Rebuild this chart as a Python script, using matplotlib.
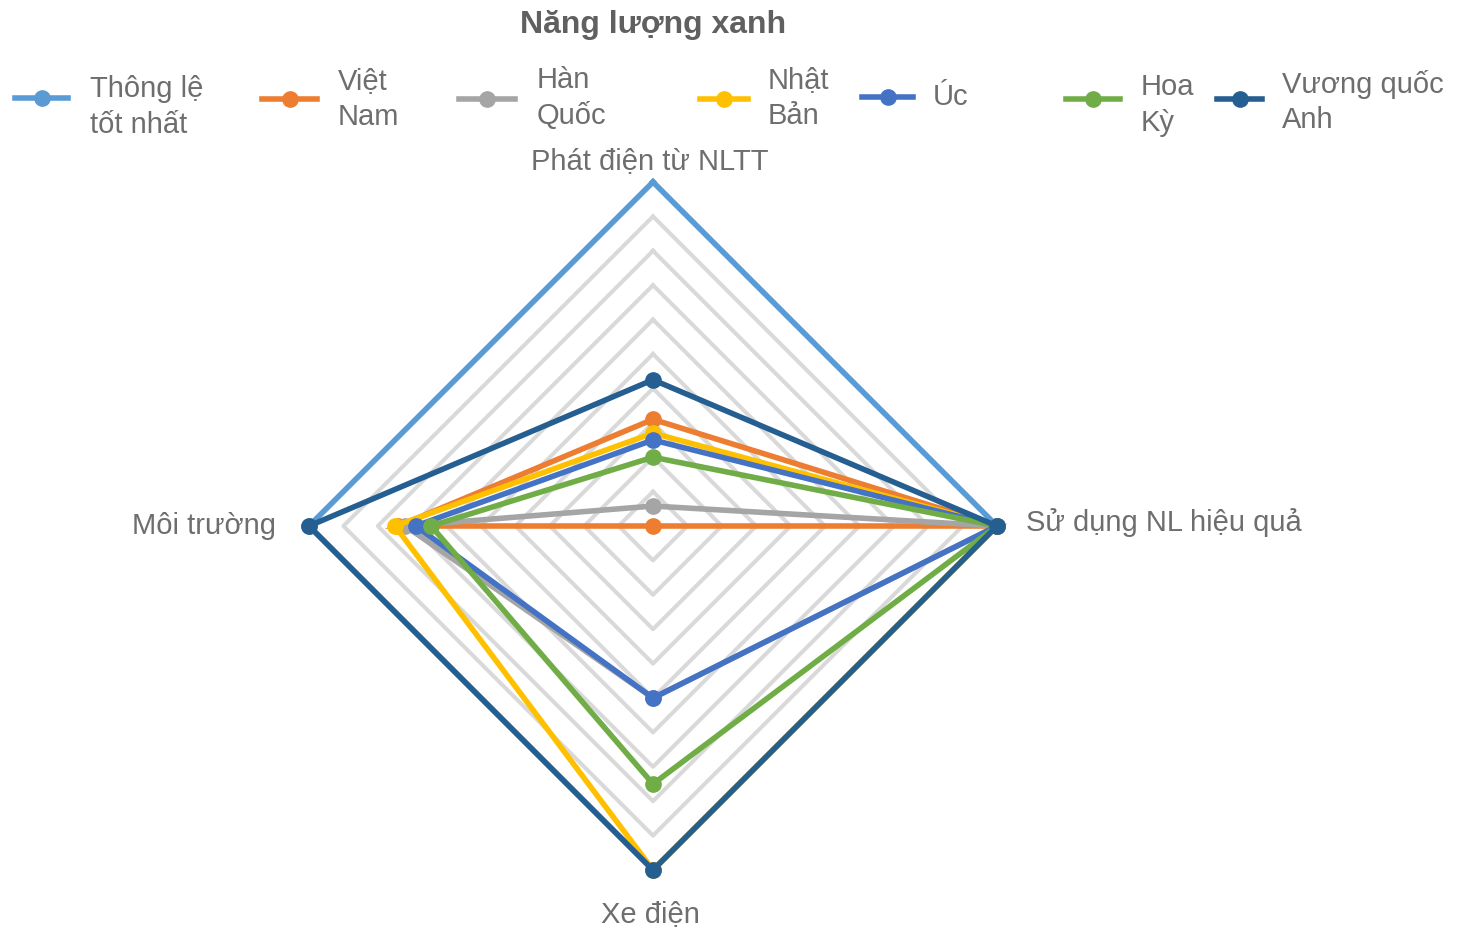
import numpy as np
import matplotlib
matplotlib.use("Agg")
import matplotlib.pyplot as plt
from matplotlib.lines import Line2D

plt.rcParams['font.family'] = ['Liberation Sans', 'DejaVu Sans']

# Axes (clockwise from the top)
categories = ["Phát điện từ NLTT", "Sử dụng NL hiệu quả", "Xe điện", "Môi trường"]

series_names = ["Thông lệ\ntốt nhất", "Việt\nNam", "Hàn\nQuốc", "Nhật\nBản", "Úc", "Hoa\nKỳ", "Vương quốc\nAnh"]
best_practice = [1.00, 1.00, 1.00, 1.00]
viet_nam      = [0.31, 1.00, 0.00, 0.74]
han_quoc      = [0.058, 1.00, 0.50, 0.72]
nhat_ban      = [0.27, 1.00, 1.00, 0.75]
uc            = [0.25, 1.00, 0.50, 0.69]
hoa_ky        = [0.20, 1.00, 0.75, 0.645]
vuong_quoc_anh = [0.425, 1.00, 1.00, 1.00]

series_values = [best_practice, viet_nam, han_quoc, nhat_ban, uc, hoa_ky, vuong_quoc_anh]
colors = ["#5B9BD5", "#ED7D31", "#A5A5A5", "#FFC000", "#4472C4", "#70AD47", "#255E91"]

grid_levels = np.linspace(0.1, 1.0, 10)

W, H = 1460, 929
fig = plt.figure(figsize=(W / 100, H / 100), dpi=100)

cx, cy, R = 653, 527, 344
ax = fig.add_axes([(cx - R) / W, (H - cy - R) / H, 2 * R / W, 2 * R / H], projection='polar')
ax.set_theta_offset(np.pi / 2)
ax.set_theta_direction(-1)
ax.set_ylim(0, 1)
ax.grid(False)
ax.spines['polar'].set_visible(False)
ax.set_xticks([])
ax.set_yticks([])
ax.patch.set_alpha(0)

n = len(categories)
theta = np.arange(n) * 2 * np.pi / n
theta_closed = np.append(theta, theta[0])

text_color = "#6E6E6E"

# Polygonal grid rings
for lv in grid_levels:
    ax.plot(theta_closed, np.full(n + 1, lv), color="#D9D9D9", lw=2.9,
            zorder=1, clip_on=False)

lw = 4.0
ms = 11
for i, (vals, col) in enumerate(zip(series_values, colors)):
    v = np.append(vals, vals[0])
    # the top vertex of the outer (best practice) polygon carries no marker
    marks = list(range(1, n)) if i == 0 else list(range(n))
    ax.plot(theta_closed, v, color=col, lw=lw, marker='o', markersize=ms,
            markevery=marks, zorder=3, clip_on=False, solid_joinstyle='miter')

# Category labels
fs = 21
ax.annotate(categories[0], xy=(theta[0], 1.0), xytext=(-3, 8), textcoords='offset pixels',
            ha='center', va='bottom', fontsize=fs, color=text_color, annotation_clip=False)
ax.annotate(categories[1], xy=(theta[1], 1.0), xytext=(29, 4), textcoords='offset pixels',
            ha='left', va='center', fontsize=fs, color=text_color, annotation_clip=False)
ax.annotate(categories[2], xy=(theta[2], 1.0), xytext=(-3, -29), textcoords='offset pixels',
            ha='center', va='top', fontsize=fs, color=text_color, annotation_clip=False)
ax.annotate(categories[3], xy=(theta[3], 1.0), xytext=(-33, 1), textcoords='offset pixels',
            ha='right', va='center', fontsize=fs, color=text_color, annotation_clip=False)

# Title
fig.text(653 / W, 1 - 25 / H, "Năng lượng xanh", ha='center', va='center',
         fontsize=23, fontweight='bold', color="#606060")

# Legend: one handle per series, label text set beside it
handle_x = [15, 262, 459, 700, 862, 1066, 1217]
handle_len = [53, 55, 56, 48, 51, 54, 45]
handle_y = [101, 102, 102, 102, 100, 102, 102]
label_x = [90, 338, 537, 768, 933, 1141, 1282]
label_y = [107, 99, 98, 98, 97, 105, 102]
em = fs * 100 / 72
for name, col, hx, hl, hy, tx, ty in zip(series_names, colors, handle_x, handle_len,
                                          handle_y, label_x, label_y):
    h = Line2D([], [], color=col, lw=lw, marker='o', markersize=ms)
    fig.legend([h], [''], loc='center left',
               bbox_to_anchor=(hx / W, 1 - hy / H), frameon=False,
               fontsize=fs, handlelength=hl / em, handletextpad=0,
               borderpad=0, borderaxespad=0)
    fig.text(tx / W, 1 - ty / H, name, ha='left', va='center', fontsize=fs,
             color=text_color, linespacing=1.36)

fig.savefig("out.png", dpi=100)
